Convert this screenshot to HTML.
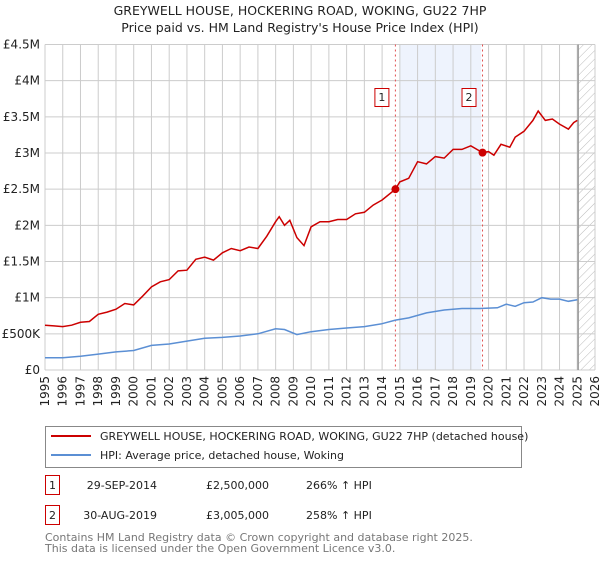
<!DOCTYPE html>
<html><head><meta charset="utf-8"><style>
body{margin:0;background:#fff;font-family:"Liberation Sans","DejaVu Sans",sans-serif;}
svg text{font-family:"DejaVu Sans","Liberation Sans",sans-serif;}
</style></head><body>
<svg id="chart" width="600" height="560" viewBox="0 0 600 560" xmlns="http://www.w3.org/2000/svg">
<defs><pattern id="hatch" width="6" height="6" patternUnits="userSpaceOnUse" patternTransform="rotate(45)"><line x1="0" y1="0" x2="0" y2="6" stroke="#bbb" stroke-width="1"/></pattern></defs>
<text x="300" y="15" text-anchor="middle" font-size="12.5" fill="#222">GREYWELL HOUSE, HOCKERING ROAD, WOKING, GU22 7HP</text>
<text x="300" y="32" text-anchor="middle" font-size="12.5" fill="#222">Price paid vs. HM Land Registry's House Price Index (HPI)</text>
<g id="plot"></g>
<rect x="45.5" y="426.5" width="476" height="41" fill="#fff" stroke="#888"/>
<line x1="51" y1="436" x2="91" y2="436" stroke="#cc0000" stroke-width="2"/>
<text x="100" y="440" font-size="11" fill="#222">GREYWELL HOUSE, HOCKERING ROAD, WOKING, GU22 7HP (detached house)</text>
<line x1="51" y1="455" x2="91" y2="455" stroke="#5b8fd4" stroke-width="2"/>
<text x="100" y="459" font-size="11" fill="#222">HPI: Average price, detached house, Woking</text>
<g font-size="11" fill="#222">
<rect x="45.5" y="475.5" width="14" height="19" fill="#fff" stroke="#cc0000"/><text x="52.5" y="489" text-anchor="middle">1</text>
<text x="157" y="489" text-anchor="end">29-SEP-2014</text><text x="206" y="489">£2,500,000</text><text x="306" y="489">266% ↑ HPI</text></g>
<g font-size="11" fill="#222">
<rect x="45.5" y="505.5" width="14" height="19" fill="#fff" stroke="#cc0000"/><text x="52.5" y="519" text-anchor="middle">2</text>
<text x="157" y="519" text-anchor="end">30-AUG-2019</text><text x="206" y="519">£3,005,000</text><text x="306" y="519">258% ↑ HPI</text></g>
<text x="45" y="541" font-size="11" fill="#777">Contains HM Land Registry data © Crown copyright and database right 2025.</text>
<text x="45" y="552" font-size="11" fill="#777">This data is licensed under the Open Government Licence v3.0.</text>
</svg>
<script>
const yTicks=[0,0.5,1,1.5,2,2.5,3,3.5,4,4.5];
const yLabels=["£0","£500K","£1M","£1.5M","£2M","£2.5M","£3M","£3.5M","£4M","£4.5M"];
const xYears=[1995,1996,1997,1998,1999,2000,2001,2002,2003,2004,2005,2006,2007,2008,2009,2010,2011,2012,2013,2014,2015,2016,2017,2018,2019,2020,2021,2022,2023,2024,2025,2026];
const redT=[1995,1995.5,1996,1996.5,1997,1997.5,1998,1998.5,1999,1999.5,2000,2000.5,2001,2001.5,2002,2002.5,2003,2003.5,2004,2004.5,2005,2005.5,2006,2006.5,2007,2007.5,2008,2008.2,2008.5,2008.8,2009.2,2009.6,2010,2010.5,2011,2011.5,2012,2012.5,2013,2013.5,2014,2014.75,2015,2015.5,2016,2016.5,2017,2017.5,2018,2018.5,2019,2019.66,2020,2020.3,2020.7,2021.2,2021.5,2022,2022.5,2022.8,2023.2,2023.6,2024,2024.5,2024.8,2025];
const redV=[0.62,0.61,0.60,0.62,0.66,0.67,0.77,0.80,0.84,0.92,0.90,1.02,1.15,1.22,1.25,1.37,1.38,1.53,1.56,1.52,1.62,1.68,1.65,1.70,1.68,1.85,2.05,2.12,2.00,2.07,1.83,1.72,1.98,2.05,2.05,2.08,2.08,2.16,2.18,2.28,2.35,2.50,2.60,2.65,2.88,2.85,2.95,2.93,3.05,3.05,3.10,3.005,3.02,2.97,3.12,3.08,3.22,3.30,3.45,3.58,3.45,3.47,3.40,3.33,3.42,3.45];
const blueT=[1995,1996,1997,1998,1999,2000,2001,2002,2003,2004,2005,2006,2007,2008,2008.5,2009.2,2010,2011,2012,2013,2014,2014.75,2015.5,2016.5,2017.5,2018.5,2019.5,2020.5,2021,2021.5,2022,2022.5,2023,2023.5,2024,2024.5,2025];
const blueV=[0.17,0.17,0.19,0.22,0.25,0.27,0.34,0.36,0.40,0.44,0.45,0.47,0.50,0.57,0.56,0.49,0.53,0.56,0.58,0.60,0.64,0.69,0.72,0.79,0.83,0.85,0.85,0.86,0.91,0.88,0.93,0.94,1.00,0.98,0.98,0.95,0.97];
const saleT=[2014.75,2019.66];
const saleV=[2.5,3.005];
const saleLabels=["1","2"];
const X0=45,X1=595,Y0=370,Y1=44.5;
const xs=t=>X0+(t-1995)/(2026-1995)*(X1-X0);
const ys=v=>Y0-v/4.5*(Y0-Y1);
const NS="http://www.w3.org/2000/svg";
const g=document.getElementById('plot');
function mk(tag,attrs){const e=document.createElementNS(NS,tag);for(const k in attrs)e.setAttribute(k,attrs[k]);g.appendChild(e);return e;}
let e;
e=mk('rect',{x:xs(2015),y:Y1,width:xs(2019.58)-xs(2015),height:Y0-Y1,fill:'#eef3fd'});


e=mk('rect',{x:xs(2025.05),y:Y1,width:X1-xs(2025.05),height:Y0-Y1,fill:'url(#hatch)'});


yTicks.forEach((v,i)=>{
 mk('line',{x1:X0,x2:X1,y1:ys(v),y2:ys(v),stroke:'#ccc','stroke-width':1});
 e=mk('text',{x:X0-5,y:ys(v)+4,'text-anchor':'end','font-size':12,fill:'#222'});e.textContent=yLabels[i];
 
 
});
xYears.forEach(yr=>{
 mk('line',{x1:xs(yr),x2:xs(yr),y1:Y1,y2:Y0,stroke:'#ccc','stroke-width':1});
 e=mk('text',{x:0,y:0,'text-anchor':'end','font-size':12,fill:'#222',transform:`translate(${xs(yr)+4},${Y0+6}) rotate(-90)`});e.textContent=yr;
 
 
});
e=mk('line',{x1:xs(2025.05),x2:xs(2025.05),y1:Y1,y2:Y0,stroke:'#999','stroke-width':1.5});
saleT.forEach((t,i)=>{
 e=mk('line',{x1:xs(t),x2:xs(t),y1:Y1,y2:Y0,stroke:'#e05050','stroke-width':1,'stroke-dasharray':'2,3'});
 
 
 e=mk('rect',{x:xs(t)-20.5,y:88.5,width:14,height:18,fill:'#fff',stroke:'#cc0000'});
 
 
 e=mk('text',{x:xs(t)-13.5,y:101,'text-anchor':'middle','font-size':11,fill:'#222'});e.textContent=saleLabels[i];
});
const path=(T,V)=>T.map((t,i)=>(i?'L':'M')+xs(t).toFixed(1)+','+ys(V[i]).toFixed(1)).join('');
e=mk('path',{d:path(blueT,blueV),fill:'none',stroke:'#5b8fd4','stroke-width':1.5});


e=mk('path',{d:path(redT,redV),fill:'none',stroke:'#cc0000','stroke-width':1.5});


saleT.forEach((t,i)=>{
 e=mk('circle',{cx:xs(t),cy:ys(saleV[i]),r:4,fill:'#cc0000'});
 
 
});
</script>
</body></html>
